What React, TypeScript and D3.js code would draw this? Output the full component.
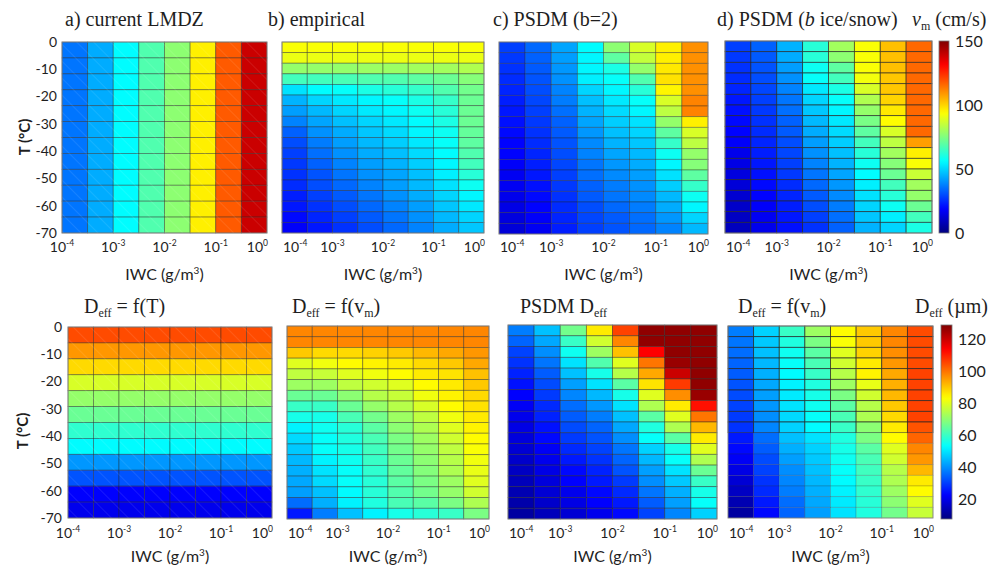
import React from "react";
import * as d3 from "d3";

// ---------- data ----------
const IWC_EDGES = [1e-4, 3.162e-4, 1e-3, 3.162e-3, 1e-2, 3.162e-2, 1e-1, 3.162e-1, 1];
const IWC_TICK_EXP = [-4, -3, -2, -1, 0];
const T_TICKS = [0, -10, -20, -30, -40, -50, -60, -70];
const VM_TICKS = [0, 50, 100, 150];
const DEFF_TICKS = [20, 40, 60, 80, 100, 120];
const VM_DOMAIN = [0, 150];
const DEFF_DOMAIN = [8, 129];

// a) current LMDZ : vm (cm/s) per IWC column, same at every T
const vmLMDZ = [36, 44, 56, 68, 77, 96, 118, 139];

// columns (IWC bins) each listing 18 T rows from 0 °C (top) to -70 °C (bottom)
const vmEmpirical = [
  [93, 91, 78, 66, 52, 45, 42, 38, 33, 30, 28, 27, 26, 25, 23, 22, 20, 18],
  [93, 91, 78, 66, 56, 50, 46, 43, 40, 37, 35, 33, 31, 30, 28, 26, 24, 22],
  [93, 91, 78, 67, 57, 53, 50, 47, 44, 42, 40, 38, 36, 34, 32, 30, 28, 26],
  [93, 91, 79, 68, 60, 55, 53, 50, 48, 46, 44, 42, 40, 38, 36, 34, 32, 30],
  [93, 91, 79, 68, 62, 57, 55, 53, 51, 49, 47, 45, 43, 42, 40, 38, 36, 34],
  [93, 91, 80, 70, 64, 60, 58, 56, 55, 53, 51, 49, 47, 46, 44, 42, 40, 38],
  [93, 91, 80, 72, 68, 64, 62, 60, 58, 57, 56, 55, 54, 52, 50, 48, 46, 44],
  [93, 91, 82, 76, 73, 72, 72, 72, 71, 70, 68, 66, 62, 58, 55, 53, 50, 48],
];

const vmPSDMb2 = [
  [28, 27, 26, 25, 24, 23, 22, 21, 20, 19, 19, 18, 17, 17, 16, 15, 14, 13],
  [34, 33, 32, 31, 30, 29, 28, 27, 26, 25, 24, 23, 22, 21, 20, 19, 18, 17],
  [43, 42, 41, 40, 38, 37, 35, 33, 32, 31, 30, 29, 28, 27, 26, 25, 24, 23],
  [56, 55, 55, 54, 50, 47, 45, 43, 41, 39, 38, 36, 35, 33, 32, 30, 29, 28],
  [77, 70, 60, 57, 55, 53, 51, 49, 47, 45, 43, 41, 39, 37, 36, 34, 32, 31],
  [88, 85, 78, 68, 62, 57, 55, 52, 50, 48, 46, 44, 42, 40, 39, 37, 35, 34],
  [96, 96, 97, 98, 95, 88, 84, 78, 70, 64, 58, 55, 52, 49, 46, 44, 41, 38],
  [110, 110, 110, 110, 110, 112, 112, 96, 88, 84, 78, 76, 70, 64, 58, 55, 50, 46],
];

const vmPSDMbIce = [
  [28, 27, 26, 25, 24, 22, 21, 20, 19, 18, 16, 15, 14, 13, 12, 11, 10, 9],
  [33, 32, 31, 30, 29, 28, 27, 26, 25, 24, 23, 22, 21, 20, 19, 18, 17, 16],
  [45, 44, 42, 40, 38, 36, 35, 33, 32, 30, 29, 28, 27, 25, 24, 23, 22, 21],
  [62, 62, 58, 57, 53, 50, 48, 46, 44, 42, 40, 38, 36, 34, 32, 30, 28, 26],
  [80, 77, 70, 66, 60, 57, 55, 53, 51, 49, 47, 45, 43, 41, 39, 37, 35, 33],
  [93, 93, 93, 92, 88, 82, 78, 74, 70, 66, 62, 58, 56, 54, 52, 50, 48, 45],
  [103, 103, 103, 102, 102, 100, 97, 94, 88, 84, 80, 76, 72, 66, 62, 58, 54, 50],
  [116, 116, 116, 116, 116, 116, 116, 116, 116, 108, 96, 93, 86, 80, 78, 72, 66, 60],
];

// Deff = f(T) (µm) per T row (12 rows), same at every IWC
const deffT = [105, 96, 88, 79, 71, 66, 59, 53, 41, 33, 23, 21];

const deffVmEmp = [
  [98, 98, 90, 80, 76, 72, 66, 60, 56, 52, 49, 47, 45, 44, 43, 42, 36, 26],
  [98, 98, 88, 82, 77, 72, 66, 60, 56, 55, 54, 54, 52, 50, 49, 46, 44, 38],
  [98, 98, 88, 84, 80, 76, 70, 66, 62, 58, 57, 56, 55, 54, 54, 53, 52, 46],
  [98, 98, 89, 85, 82, 78, 75, 71, 67, 64, 62, 61, 60, 59, 58, 58, 57, 52],
  [98, 98, 90, 86, 84, 80, 77, 75, 72, 70, 68, 67, 66, 65, 64, 63, 62, 56],
  [98, 98, 92, 88, 86, 84, 82, 79, 76, 74, 72, 71, 70, 69, 68, 67, 64, 58],
  [98, 98, 94, 90, 87, 86, 85, 84, 82, 80, 78, 76, 75, 74, 72, 71, 68, 60],
  [98, 98, 96, 94, 91, 90, 88, 87, 86, 85, 84, 83, 82, 81, 80, 78, 74, 68],
];

const deffPSDM = [
  [38, 35, 31, 29, 27, 25, 23, 22, 21, 20, 19, 18, 17, 16, 15, 14, 13, 12],
  [46, 43, 40, 37, 34, 32, 30, 28, 27, 25, 24, 22, 21, 20, 19, 18, 17, 15],
  [67, 60, 55, 50, 46, 42, 39, 36, 34, 32, 30, 28, 26, 24, 23, 21, 20, 18],
  [86, 78, 72, 63, 56, 50, 45, 41, 38, 35, 33, 31, 29, 27, 26, 24, 23, 21],
  [106, 98, 91, 80, 75, 64, 56, 50, 46, 43, 40, 37, 35, 33, 30, 28, 26, 24],
  [127, 127, 114, 100, 94, 87, 80, 74, 64, 57, 54, 48, 45, 42, 40, 37, 34, 31],
  [127, 127, 127, 126, 120, 107, 97, 86, 80, 74, 64, 56, 54, 50, 47, 44, 42, 39],
  [127, 127, 127, 127, 127, 127, 126, 112, 100, 92, 86, 80, 74, 66, 60, 56, 54, 48],
];

const deffVmIce = [
  [38, 37, 36, 35, 34, 33, 32, 31, 30, 29, 26, 24, 22, 20, 18, 16, 14, 12],
  [48, 47, 46, 45, 44, 43, 42, 41, 40, 39, 36, 34, 32, 31, 29, 28, 26, 24],
  [60, 57, 55, 54, 53, 52, 51, 50, 49, 48, 46, 44, 42, 40, 39, 38, 36, 35],
  [72, 68, 64, 62, 60, 57, 56, 55, 54, 53, 50, 48, 47, 46, 45, 44, 43, 42],
  [84, 83, 80, 78, 75, 72, 68, 64, 62, 60, 57, 56, 55, 54, 53, 52, 51, 50],
  [90, 90, 89, 86, 85, 81, 78, 75, 74, 70, 68, 64, 62, 61, 60, 59, 58, 57],
  [98, 98, 97, 96, 94, 93, 92, 90, 88, 86, 84, 80, 78, 75, 74, 72, 70, 67],
  [105, 105, 105, 105, 106, 106, 106, 106, 106, 104, 102, 98, 96, 92, 86, 84, 80, 77],
];

// ---------- helpers ----------
const jet = (t: number) => {
  const c = (x: number) => Math.max(0, Math.min(1, x));
  const r = c(1.5 - Math.abs(4 * t - 3));
  const g = c(1.5 - Math.abs(4 * t - 2));
  const b = c(1.5 - Math.abs(4 * t - 1));
  return d3.rgb(r * 255, g * 255, b * 255).formatHex();
};

const vmColor = d3.scaleSequential(jet).domain(VM_DOMAIN as [number, number]);
const deffColor = d3.scaleSequential(jet).domain(DEFF_DOMAIN as [number, number]);

const SANS = "Lato, 'Open Sans', sans-serif";
const SERIF = "'Liberation Serif', 'Times New Roman', serif";
const TXT = "#1e1e1e";

type Layout = { x0: number; x1: number; y0: number; y1: number };

const LAYOUT: Layout[] = [
  { x0: 62, x1: 267, y0: 42, y1: 233 },
  { x0: 282, x1: 484, y0: 42, y1: 233 },
  { x0: 499, x1: 708, y0: 42, y1: 234 },
  { x0: 725, x1: 932, y0: 41, y1: 233 },
  { x0: 68, x1: 272, y0: 327, y1: 518 },
  { x0: 287, x1: 489, y0: 326, y1: 519 },
  { x0: 508, x1: 717, y0: 325, y1: 519 },
  { x0: 728, x1: 933, y0: 326, y1: 518 },
];

function Panel({
  lay,
  grid,
  color,
  showY,
  edgeOpacity,
  hatch,
  tickY,
  labelY,
  yLabelX,
  yTickX,
  tLabelY,
}: {
  lay: Layout;
  grid: number[][];
  color: (v: number) => string;
  showY: boolean;
  edgeOpacity: (r: number) => number;
  hatch: boolean;
  tickY: number;
  labelY: number;
  yLabelX: number;
  yTickX: number;
  tLabelY: number;
}) {
  const xs = d3.scaleLog().domain([1e-4, 1]).range([lay.x0, lay.x1]);
  const ys = d3.scaleLinear().domain([0, -70]).range([lay.y0, lay.y1]);
  const nRows = grid[0].length;
  const cells: React.ReactNode[] = [];
  grid.forEach((col, c) => {
    col.forEach((v, r) => {
      const xa = xs(IWC_EDGES[c]);
      const xb = xs(IWC_EDGES[c + 1]);
      const ya = ys((-70 * r) / nRows);
      const yb = ys((-70 * (r + 1)) / nRows);
      cells.push(
        <rect
          key={`${c}-${r}`}
          x={xa}
          y={ya}
          width={xb - xa}
          height={yb - ya}
          fill={color(v)}
          stroke="#262626"
          strokeOpacity={edgeOpacity(r)}
          strokeWidth={0.8}
        />
      );
    });
  });
  const last = IWC_TICK_EXP.length - 1;
  return (
    <g>
      {cells}
      {hatch && (
        <rect
          x={lay.x0}
          y={lay.y0}
          width={lay.x1 - lay.x0}
          height={lay.y1 - lay.y0}
          fill="url(#hatch)"
        />
      )}
      <rect
        x={lay.x0}
        y={lay.y0}
        width={lay.x1 - lay.x0}
        height={lay.y1 - lay.y0}
        fill="none"
        stroke="#8a8a8a"
        strokeWidth={0.8}
      />
      {IWC_TICK_EXP.map((e, i) => {
        let anchor = "middle";
        let x = xs(Math.pow(10, e));
        if (i === last) {
          anchor = "end";
          x += 1;
        } else if (i === 0 && !showY) {
          anchor = "start";
          x += 1;
        }
        return (
          <text
            key={e}
            x={x}
            y={tickY}
            textAnchor={anchor}
            fontFamily={SANS}
            fontSize={14}
            fill={TXT}
          >
            10
            <tspan fontSize={8.5} dy={-6}>
              {e}
            </tspan>
          </text>
        );
      })}
      <text
        x={(lay.x0 + lay.x1) / 2}
        y={labelY}
        textAnchor="middle"
        fontFamily={SANS}
        fontSize={16}
        fill={TXT}
      >
        IWC (g/m
        <tspan fontSize={10} dy={-6}>
          3
        </tspan>
        <tspan dy={6}>)</tspan>
      </text>
      {showY &&
        T_TICKS.map((t) => (
          <text
            key={t}
            x={yTickX}
            y={ys(t)}
            dy="0.35em"
            textAnchor="end"
            fontFamily={SANS}
            fontSize={14}
            fill={TXT}
          >
            {t}
          </text>
        ))}
      {showY && (
        <text
          transform={`translate(${yLabelX},${tLabelY}) rotate(-90)`}
          textAnchor="middle"
          dy="0.35em"
          fontFamily={SANS}
          fontSize={15}
          fontWeight="bold"
          fill={TXT}
        >
          T (°C)
        </text>
      )}
    </g>
  );
}

function ColorBar({
  x,
  w,
  y0,
  y1,
  domain,
  ticks,
  id,
  labelX,
}: {
  x: number;
  w: number;
  y0: number;
  y1: number;
  domain: number[];
  ticks: number[];
  id: string;
  labelX: number;
}) {
  const ys = d3.scaleLinear().domain(domain).range([y1, y0]);
  const stops = d3.range(0, 1.0001, 0.02);
  return (
    <g>
      <defs>
        <linearGradient id={id} x1="0" y1="1" x2="0" y2="0">
          {stops.map((s) => (
            <stop key={s} offset={s} stopColor={jet(s)} />
          ))}
        </linearGradient>
      </defs>
      <rect x={x} y={y0} width={w} height={y1 - y0} fill={`url(#${id})`} stroke="#777" strokeWidth={0.8} />
      {ticks.map((t) => (
        <text
          key={t}
          x={labelX}
          y={ys(t)}
          dy="0.35em"
          fontFamily={SANS}
          fontSize={16}
          fill={TXT}
        >
          {t}
        </text>
      ))}
    </g>
  );
}

export default function App() {
  const rows12 = deffT.map((_, i) => i);
  const gridA = vmLMDZ.map((v) => rows12.map(() => v));
  const gridE = vmLMDZ.map(() => deffT.slice());

  const panels = [
    { grid: gridA, color: vmColor, showY: true, edge: () => 0.5, hatch: true },
    { grid: vmEmpirical, color: vmColor, showY: false, edge: () => 0.5, hatch: false },
    { grid: vmPSDMb2, color: vmColor, showY: false, edge: () => 0.45, hatch: false },
    { grid: vmPSDMbIce, color: vmColor, showY: false, edge: () => 0.8, hatch: false },
    { grid: gridE, color: deffColor, showY: true, edge: () => 0.5, hatch: true },
    { grid: deffVmEmp, color: deffColor, showY: false, edge: () => 0.5, hatch: false },
    { grid: deffPSDM, color: deffColor, showY: false, edge: () => 0.55, hatch: false },
    { grid: deffVmIce, color: deffColor, showY: false, edge: (r: number) => (r < 10 ? 0.85 : 0.25), hatch: false },
  ];

  const sub = (s: string) => (
    <tspan fontSize={12} dy={4}>
      {s}
    </tspan>
  );

  return (
    <svg
      width={1000}
      height={571}
      style={{ position: "absolute", left: 0, top: 0, background: "#fff" }}
    >
      <defs>
        <pattern id="hatch" width="12" height="12" patternUnits="userSpaceOnUse" patternTransform="rotate(-45)">
          <line x1="0" y1="0" x2="0" y2="12" stroke="#fff" strokeOpacity={0.18} strokeWidth={1} />
        </pattern>
      </defs>
      <rect width={1000} height={571} fill="#fff" />
      {panels.map((p, i) => {
        const top = i < 4;
        return (
          <Panel
            key={i}
            lay={LAYOUT[i]}
            grid={p.grid}
            color={p.color}
            showY={p.showY}
            edgeOpacity={p.edge}
            hatch={p.hatch}
            tickY={top ? 252 : 538}
            labelY={top ? 280 : 562}
            yTickX={top ? 57 : 62}
            yLabelX={top ? 25 : 23}
            tLabelY={top ? 137 : 431}
          />
        );
      })}

      <ColorBar x={939} w={10} y0={41} y1={233} domain={VM_DOMAIN} ticks={VM_TICKS} id="cbv" labelX={955} />
      <ColorBar x={941} w={11} y0={325} y1={519} domain={DEFF_DOMAIN} ticks={DEFF_TICKS} id="cbd" labelX={958} />

      {/* top titles */}
      <g fontFamily={SERIF} fontSize={20} fill={TXT}>
        <text x={65} y={26}>a) current LMDZ</text>
        <text x={268} y={26}>b) empirical</text>
        <text x={493} y={26}>c) PSDM (b=2)</text>
        <text x={717} y={26}>
          d) PSDM (<tspan fontStyle="italic">b</tspan> ice/snow)
        </text>
        <text x={912} y={26}>
          <tspan fontStyle="italic">v</tspan>
          <tspan fontSize={12} dy={4}>m</tspan>
          <tspan dy={-4}> (cm/s)</tspan>
        </text>

        {/* bottom titles */}
        <text x={84} y={313}>
          D{sub("eff")}
          <tspan dy={-4}> = f(T)</tspan>
        </text>
        <text x={292} y={313}>
          D{sub("eff")}
          <tspan dy={-4}> = f(v</tspan>
          <tspan fontSize={12} dy={4}>m</tspan>
          <tspan dy={-4}>)</tspan>
        </text>
        <text x={520} y={313}>
          PSDM D{sub("eff")}
        </text>
        <text x={738} y={313}>
          D{sub("eff")}
          <tspan dy={-4}> = f(v</tspan>
          <tspan fontSize={12} dy={4}>m</tspan>
          <tspan dy={-4}>)</tspan>
        </text>
        <text x={915} y={313}>
          D{sub("eff")}
          <tspan dy={-4}> (µm)</tspan>
        </text>
      </g>
    </svg>
  );
}
